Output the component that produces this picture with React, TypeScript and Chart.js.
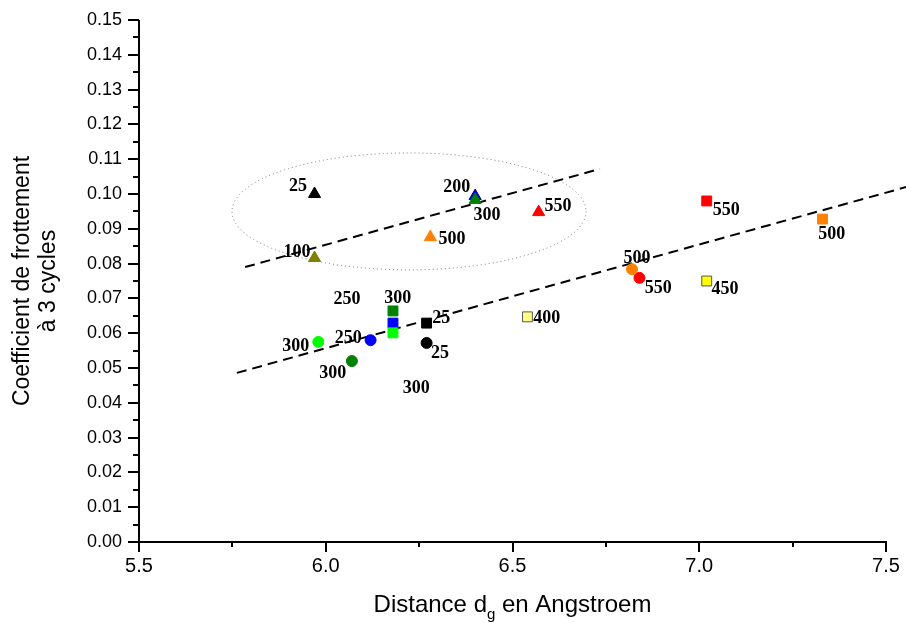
import React, { useEffect, useRef } from 'react';
import { Chart, registerables } from 'chart.js';

Chart.register(...registerables);

// ---- axis ticks ----
const X_TICKS = [5.5, 6.0, 6.5, 7.0, 7.5];
const Y_TICKS = [0.0, 0.01, 0.02, 0.03, 0.04, 0.05, 0.06, 0.07, 0.08, 0.09, 0.1, 0.11, 0.12, 0.13, 0.14, 0.15];

// ---- triangles ----
const triangleX = [5.97, 5.97, 6.40, 6.40, 6.28, 6.57];
const triangleY = [0.1, 0.0816, 0.0994, 0.0983, 0.0876, 0.0948];
const triangleFill = ['#000000', '#808000', '#0000ff', '#008000', '#ff8000', '#ff0000'];
const triangleEdge = ['#000000', '#808000', '#000080', '#008000', '#ff8000', '#ff0000'];

// ---- squares ----
const squareX = [6.18, 6.18, 6.18, 6.27, 6.54, 7.02, 7.33, 7.02];
const squareY = [0.0664, 0.0629, 0.0601, 0.0629, 0.0647, 0.098, 0.0928, 0.075];
const squareFill = ['#008000', '#0000ff', '#00ff00', '#000000', '#ffff80', '#ff0000', '#ff8000', '#ffff00'];
const squareEdge = ['#008000', '#0000ff', '#00ff00', '#000000', '#555555', '#ff0000', '#ff8000', '#555555'];

// ---- circles ----
const circleX = [5.98, 6.07, 6.12, 6.27, 6.82, 6.84];
const circleY = [0.0575, 0.052, 0.058, 0.0572, 0.0784, 0.0759];
const circleFill = ['#00ff00', '#008000', '#0000ff', '#000000', '#ff8000', '#ff0000'];

// ---- annotations (temperatures) ----
const labelText = ['25', '100', '200', '300', '500', '550', '250', '300', '25', '300', '250', '300', '25', '300', '400', '500', '550', '550', '450', '500'];
const labelX = [5.926, 5.923, 6.351, 6.432, 6.338, 6.622, 6.057, 6.193, 6.309, 5.92, 6.06, 6.019, 6.306, 6.242, 6.592, 6.833, 6.89, 7.072, 7.069, 7.355];
const labelY = [0.1026, 0.0836, 0.1023, 0.0943, 0.0874, 0.0968, 0.0701, 0.0704, 0.0647, 0.0566, 0.0589, 0.0489, 0.0546, 0.0445, 0.0647, 0.0819, 0.0733, 0.0957, 0.073, 0.0888];

// ---- trend lines ----
const trend1X = [5.784, 6.734];
const trend1Y = [0.079, 0.1072];
const trend2X = [5.762, 7.554];
const trend2Y = [0.0486, 0.102];

// ---- ellipse (data units) ----
const ellipseCenter = [6.223, 0.095];
const ellipseRadii = [0.474, 0.0168];

const pts = (xs: number[], ys: number[]) => xs.map((x, i) => ({ x, y: ys[i] }));

const SANS = '"Liberation Sans", Arial, sans-serif';

const zeroPad = (s: any) => {
  s.paddingTop = 0;
  s.paddingBottom = 0;
  s.paddingLeft = 0;
  s.paddingRight = 0;
};

const decorPlugin = {
  id: 'decor',
  beforeDatasetsDraw(chart: any) {
    const { ctx, scales } = chart;
    const xs = scales.x, ys = scales.y;
    const cx = xs.getPixelForValue(ellipseCenter[0]);
    const cy = ys.getPixelForValue(ellipseCenter[1]);
    const rx = Math.abs(xs.getPixelForValue(ellipseCenter[0] + ellipseRadii[0]) - cx);
    const ry = Math.abs(ys.getPixelForValue(ellipseCenter[1] + ellipseRadii[1]) - cy);
    ctx.save();
    ctx.strokeStyle = '#777777';
    ctx.lineWidth = 1;
    ctx.setLineDash([1, 3]);
    ctx.beginPath();
    ctx.ellipse(cx, cy, rx, ry, 0, 0, Math.PI * 2);
    ctx.stroke();
    ctx.restore();
  },
  afterDatasetsDraw(chart: any) {
    const { ctx, scales } = chart;
    ctx.save();
    ctx.fillStyle = '#000';
    ctx.font = 'bold 18px "Liberation Serif", "Times New Roman", serif';
    ctx.textAlign = 'center';
    ctx.textBaseline = 'alphabetic';
    labelText.forEach((t, i) => {
      const px = scales.x.getPixelForValue(labelX[i]);
      const py = scales.y.getPixelForValue(labelY[i]);
      ctx.fillText(t, px, py + 6);
    });
    ctx.restore();
  },
  afterDraw(chart: any) {
    const { ctx, scales, chartArea } = chart;
    const xs = scales.x, ys = scales.y;
    const L = chartArea.left, R = chartArea.right, T = chartArea.top, B = chartArea.bottom;
    ctx.save();
    ctx.strokeStyle = '#000';
    ctx.lineWidth = 2;
    ctx.setLineDash([]);
    ctx.beginPath();
    ctx.moveTo(L, T);
    ctx.lineTo(L, B + 1);
    ctx.moveTo(L - 1, B);
    ctx.lineTo(R + 1, B);
    for (let i = 0; i < Y_TICKS.length; i++) {
      const py = Math.round(ys.getPixelForValue(Y_TICKS[i]));
      ctx.moveTo(L - 11, py);
      ctx.lineTo(L, py);
      if (i < Y_TICKS.length - 1) {
        const pm = Math.round(ys.getPixelForValue((Y_TICKS[i] + Y_TICKS[i + 1]) / 2));
        ctx.moveTo(L - 6, pm);
        ctx.lineTo(L, pm);
      }
    }
    for (let i = 0; i < X_TICKS.length; i++) {
      const px = Math.round(xs.getPixelForValue(X_TICKS[i]));
      ctx.moveTo(px, B);
      ctx.lineTo(px, B + 10);
      if (i < X_TICKS.length - 1) {
        const pm = Math.round(xs.getPixelForValue((X_TICKS[i] + X_TICKS[i + 1]) / 2));
        ctx.moveTo(pm, B);
        ctx.lineTo(pm, B + 5);
      }
    }
    ctx.stroke();

    ctx.fillStyle = '#000';
    const midX = (L + R) / 2;
    ctx.font = `24px ${SANS}`;
    const part1 = 'Distance d';
    const part3 = ' en Angstroem';
    const w1 = ctx.measureText(part1).width;
    const w3 = ctx.measureText(part3).width;
    ctx.font = `15px ${SANS}`;
    const w2 = ctx.measureText('g').width;
    const total = w1 + w2 + w3;
    const x0 = midX - total / 2;
    const base = 612;
    ctx.textAlign = 'left';
    ctx.textBaseline = 'alphabetic';
    ctx.font = `24px ${SANS}`;
    ctx.fillText(part1, x0, base);
    ctx.font = `15px ${SANS}`;
    ctx.fillText('g', x0 + w1, base + 7);
    ctx.font = `24px ${SANS}`;
    ctx.fillText(part3, x0 + w1 + w2, base);

    const midY = (T + B) / 2;
    ctx.translate(0, midY);
    ctx.rotate(-Math.PI / 2);
    ctx.textAlign = 'center';
    ctx.textBaseline = 'middle';
    ctx.font = `23px ${SANS}`;
    ctx.fillText('Coefficient de frottement', 0, 23);
    ctx.fillText('à 3 cycles', 0, 49);
    ctx.restore();
  },
};

export default function App() {
  const ref = useRef<HTMLCanvasElement | null>(null);
  useEffect(() => {
    if (!ref.current) return;
    const chart = new Chart(ref.current, {
      type: 'scatter',
      data: {
        datasets: [
          {
            label: 'triangles',
            data: pts(triangleX, triangleY),
            pointStyle: 'triangle',
            pointRadius: 7,
            backgroundColor: triangleFill,
            borderColor: triangleEdge,
            borderWidth: 1,
          } as any,
          {
            label: 'squares',
            data: pts(squareX, squareY),
            pointStyle: 'rect',
            pointRadius: 7,
            backgroundColor: squareFill,
            borderColor: squareEdge,
            borderWidth: 1,
          },
          {
            label: 'circles',
            data: pts(circleX, circleY),
            pointStyle: 'circle',
            pointRadius: 5.5,
            backgroundColor: circleFill,
            borderColor: circleFill,
            borderWidth: 1,
          },
          {
            label: 'trend1',
            data: pts(trend1X, trend1Y),
            showLine: true,
            borderColor: '#000',
            borderWidth: 2,
            borderDash: [10, 6],
            pointRadius: 0,
            clip: false,
          },
          {
            label: 'trend2',
            data: pts(trend2X, trend2Y),
            showLine: true,
            borderColor: '#000',
            borderWidth: 2,
            borderDash: [10, 6],
            pointRadius: 0,
            clip: false,
          },
        ],
      },
      options: {
        animation: false,
        responsive: false,
        events: [],
        layout: { padding: { top: 20, right: 20, left: 0, bottom: 0 } },
        plugins: { legend: { display: false }, tooltip: { enabled: false }, title: { display: false } },
        scales: {
          x: {
            type: 'linear',
            min: 5.5,
            max: 7.5,
            afterBuildTicks: (s: any) => { s.ticks = X_TICKS.map((v) => ({ value: v })); },
            afterFit: (s: any) => { s.height = 81; zeroPad(s); },
            grid: { display: true, drawOnChartArea: false, drawTicks: false, color: 'rgba(0,0,0,0)' },
            border: { display: false },
            ticks: {
              color: '#000',
              padding: 12,
              maxRotation: 0,
              font: { family: SANS, size: 20 },
              callback: (v: any) => Number(v).toFixed(1),
            },
          },
          y: {
            type: 'linear',
            min: 0,
            max: 0.15,
            afterBuildTicks: (s: any) => { s.ticks = Y_TICKS.map((v) => ({ value: v })); },
            afterFit: (s: any) => { s.width = 139; zeroPad(s); },
            grid: { display: true, drawOnChartArea: false, drawTicks: false, color: 'rgba(0,0,0,0)' },
            border: { display: false },
            ticks: {
              color: '#000',
              padding: 17,
              font: { family: SANS, size: 18 },
              callback: (v: any) => Number(v).toFixed(2),
            },
          },
        },
      },
      plugins: [decorPlugin],
    } as any);
    return () => chart.destroy();
  }, []);
  return (
    <div style={{ position: 'fixed', left: 0, top: 0, width: 906, height: 623, background: '#fff' }}>
      <canvas ref={ref} width={906} height={623} style={{ display: 'block' }} />
    </div>
  );
}
